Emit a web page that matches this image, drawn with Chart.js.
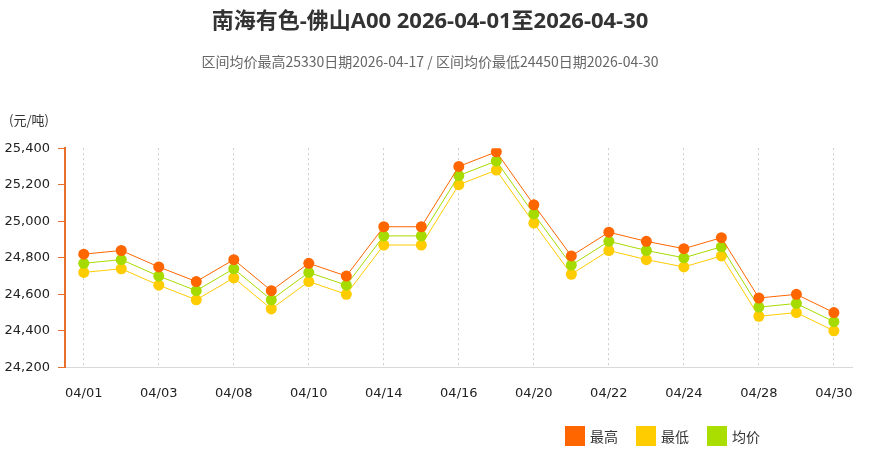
<!DOCTYPE html>
<html>
<head>
<meta charset="utf-8">
<script src="https://cdn.jsdelivr.net/npm/chart.js@4.4.0/dist/chart.umd.min.js"></script>
<style>
  html, body { margin: 0; padding: 0; background: #fff; }
  #wrap { position: relative; width: 871px; height: 453px; }
  #unit { position: absolute; left: 9px; top: 110px; font: 13px 'Noto Sans CJK SC', sans-serif; color: #333; }
  #legend { position: absolute; left: 565px; top: 426px; display: flex; font: 14px 'Noto Sans CJK SC', sans-serif; color: #333; }
  #legend .item { display: flex; align-items: center; margin-right: 18px; }
  #legend .box { width: 20px; height: 20px; margin-right: 5px; }
</style>
</head>
<body>
<div id="wrap">
  <canvas id="priceChart" width="871" height="453"></canvas>
  <div id="unit">(元/吨)</div>
  <div id="legend"></div>
</div>
<script>
// trading days, April 2026
const dates = ['04/01', '04/02', '04/03', '04/07', '04/08', '04/09', '04/10', '04/13', '04/14', '04/15',
               '04/16', '04/17', '04/20', '04/21', '04/22', '04/23', '04/24', '04/27', '04/28', '04/29', '04/30'];

const highPrices = [24820, 24840, 24750, 24670, 24790, 24620, 24770, 24700, 24970, 24970,
                    25300, 25380, 25090, 24810, 24940, 24890, 24850, 24910, 24580, 24600, 24500];
const lowPrices  = [24720, 24740, 24650, 24570, 24690, 24520, 24670, 24600, 24870, 24870,
                    25200, 25280, 24990, 24710, 24840, 24790, 24750, 24810, 24480, 24500, 24400];
const avgPrices  = [24770, 24790, 24700, 24620, 24740, 24570, 24720, 24650, 24920, 24920,
                    25250, 25330, 25040, 24760, 24890, 24840, 24800, 24860, 24530, 24550, 24450];

const yTicks = [24200, 24400, 24600, 24800, 25000, 25200, 25400];

function makeSeries(label, data, color, order) {
    return {
        label: label,
        data: data,
        borderColor: color,
        backgroundColor: color,
        borderWidth: 1,
        pointRadius: 5.5,
        pointHoverRadius: 6,
        pointBorderWidth: 0,
        tension: 0,
        order: order
    };
}

const datasets = [
    makeSeries('最高', highPrices, '#ff6600', 0),
    makeSeries('最低', lowPrices, '#ffcc00', 2),
    makeSeries('均价', avgPrices, '#a6db00', 1)
];

const ctx = document.getElementById('priceChart').getContext('2d');

const myChart = new Chart(ctx, {
    type: 'line',
    data: {
        labels: dates,
        datasets: datasets
    },
    options: {
        responsive: false,
        animation: false,
        layout: {
            padding: { left: 5, right: 16, top: 0, bottom: 34 }
        },
        plugins: {
            legend: { display: false },
            title: {
                display: true,
                text: '南海有色-佛山A00 2026-04-01至2026-04-30',
                color: '#333',
                font: { family: "'Open Sans', 'Noto Sans CJK SC', sans-serif", size: 22, weight: 'bold', lineHeight: 1.2 },
                padding: { top: 9, bottom: 8 }
            },
            subtitle: {
                display: true,
                text: '区间均价最高' + Math.max(...avgPrices) + '日期2026-04-17 / 区间均价最低' + Math.min(...avgPrices) + '日期2026-04-30',
                color: '#666',
                font: { family: "'Noto Sans CJK SC', sans-serif", size: 14, lineHeight: 1.2 },
                padding: { top: 10, bottom: 78 }
            },
            tooltip: { mode: 'index', intersect: false }
        },
        scales: {
            x: {
                offset: true,
                grid: {
                    offset: false,
                    drawTicks: false,
                    color: function (c) {
                        return c.index % 2 === 0 ? '#cccccc' : 'rgba(0,0,0,0)';
                    },
                    lineWidth: 1
                },
                border: {
                    color: '#d8d8d8',
                    width: 1,
                    dash: [2, 3]
                },
                ticks: {
                    autoSkip: false,
                    maxRotation: 0,
                    padding: 18,
                    color: '#222',
                    font: { family: "'DejaVu Sans', sans-serif", size: 13 },
                    callback: function (value, index) {
                        return index % 2 === 0 ? this.getLabelForValue(value) : '';
                    }
                }
            },
            y: {
                min: yTicks[0],
                max: yTicks[yTicks.length - 1],
                afterBuildTicks: function (axis) {
                    axis.ticks = yTicks.map(v => ({ value: v }));
                },
                afterFit: function (axis) {
                    axis.width = 60;
                },
                grid: {
                    drawOnChartArea: false,
                    drawTicks: true,
                    tickLength: 7,
                    tickColor: '#e8702a',
                    tickWidth: 1
                },
                border: {
                    color: '#e8702a',
                    width: 2
                },
                ticks: {
                    padding: 8,
                    color: '#222',
                    font: { family: "'DejaVu Sans', sans-serif", size: 13 },
                    callback: function (value) {
                        return value.toLocaleString('en-US');
                    }
                }
            }
        }
    }
});

// legend below the chart, built from the datasets
const legendEl = document.getElementById('legend');
myChart.data.datasets.forEach(function (ds) {
    const item = document.createElement('div');
    item.className = 'item';
    const box = document.createElement('span');
    box.className = 'box';
    box.style.background = ds.label === '均价' ? '#aadd00' : ds.backgroundColor;
    const txt = document.createElement('span');
    txt.textContent = ds.label;
    item.appendChild(box);
    item.appendChild(txt);
    legendEl.appendChild(item);
});
</script>
</body>
</html>
